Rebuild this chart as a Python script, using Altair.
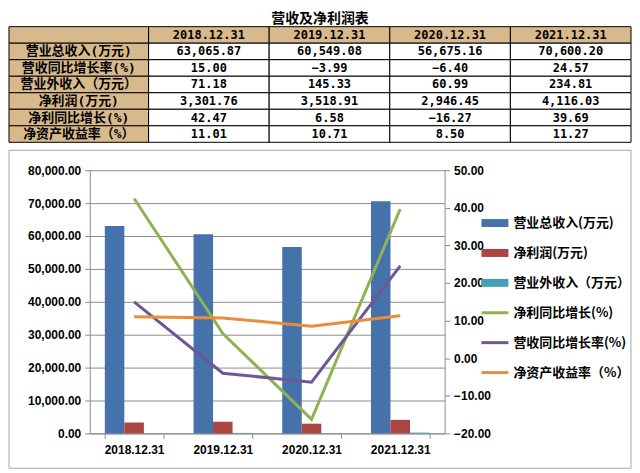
import altair as alt
import pandas as pd

years = ["2018.12.31", "2019.12.31", "2020.12.31", "2021.12.31"]
revenue = [63065.87, 60549.08, 56675.16, 70600.20]
revenue_growth = [15.00, -3.99, -6.40, 24.57]
non_op_income = [71.18, 145.33, 60.99, 234.81]
net_profit = [3301.76, 3518.91, 2946.45, 4116.03]
profit_growth = [42.47, 6.58, -16.27, 39.69]
roe = [11.01, 10.71, 8.50, 11.27]

row_labels = ["营业总收入(万元)", "营收同比增长率(%)", "营业外收入（万元）",
              "净利润(万元)", "净利同比增长(%)", "净资产收益率（%）"]
row_values = [revenue, revenue_growth, non_op_income, net_profit, profit_growth, roe]

bar_names = ["营业总收入(万元)", "净利润(万元)", "营业外收入（万元）"]
bar_values = [revenue, net_profit, non_op_income]
line_names = ["净利同比增长(%)", "营收同比增长率(%)", "净资产收益率（%）"]
line_values = [profit_growth, revenue_growth, roe]
legend_names = bar_names + line_names
legend_kinds = ["bar", "bar", "bar", "line", "line", "line"]
colors = ["#4672AC", "#AA4541", "#42A0B8", "#8DB353", "#6F5696", "#EB8C3C"]

left_ticks = [0, 10000, 20000, 30000, 40000, 50000, 60000, 70000, 80000]
right_ticks = [-20, -10, 0, 10, 20, 30, 40, 50]

TAN = "#D7B98C"
GRAY = "#8C8C8C"
MONO = "DejaVu Sans Mono, Noto Sans CJK SC"
CJK = "Noto Sans CJK SC"
LAT = "Liberation Sans"

# ---------- data frames ----------
hdr = "hdr"
df_cells = pd.DataFrame(
    [{"row": hdr, "year": y} for y in years]
    + [{"row": r, "year": y} for r in row_labels for y in years]
)
df_vals = pd.DataFrame(
    [{"row": r, "year": y, "value": v[i]} for r, v in zip(row_labels, row_values)
     for i, y in enumerate(years)]
)
df_hdr = pd.DataFrame({"row": [hdr] * len(years), "year": years})
df_labels = pd.DataFrame({"row": [hdr] + row_labels, "label": [""] + row_labels})

df_bars = pd.DataFrame(
    [{"name": n, "year": y, "value": v[i]} for n, v in zip(bar_names, bar_values)
     for i, y in enumerate(years)]
)
df_lines = pd.DataFrame(
    [{"name": n, "year": y, "value": v[i]} for n, v in zip(line_names, line_values)
     for i, y in enumerate(years)]
)
df_legend = pd.DataFrame({"name": legend_names, "kind": legend_kinds})

row_scale = alt.Scale(domain=[hdr] + row_labels, range=[-144, -28], paddingInner=0, paddingOuter=0)
col_scale = alt.Scale(domain=years, range=[59, 543], paddingInner=0, paddingOuter=0)
cat_scale = alt.Scale(domain=years, paddingInner=0.34, paddingOuter=0.17)
color_scale = alt.Scale(domain=legend_names, range=colors)
leg_scale = alt.Scale(type="point", domain=legend_names, range=[53, 203], padding=0)

# ---------- chart frame ----------
frame = alt.Chart(pd.DataFrame({"k": [0]})).mark_rect(
    filled=False, stroke="#A6A6A6", strokeWidth=1
).encode(x=alt.value(-81), x2=alt.value(543), y=alt.value(-20), y2=alt.value(299))

# ---------- table ----------
cells = alt.Chart(df_cells).mark_rect(stroke="black", strokeWidth=1).encode(
    x=alt.X("year:N", scale=col_scale, axis=None),
    y=alt.Y("row:N", scale=row_scale, axis=None),
    fill=alt.condition(alt.datum.row == hdr, alt.value(TAN), alt.value("white")),
)
label_cells = alt.Chart(df_labels).mark_rect(fill=TAN, stroke="black", strokeWidth=1).encode(
    x=alt.value(-81), x2=alt.value(59),
    y=alt.Y("row:N", scale=row_scale, axis=None),
)
label_text = alt.Chart(df_labels).mark_text(
    font=MONO, fontSize=13, fontWeight="bold", color="black", baseline="middle", align="center"
).encode(
    x=alt.value(-11),
    y=alt.Y("row:N", scale=row_scale, axis=None),
    text="label:N",
)
hdr_text = alt.Chart(df_hdr).mark_text(
    font=MONO, fontSize=12, fontWeight="bold", color="black", baseline="middle"
).encode(
    x=alt.X("year:N", scale=col_scale, axis=None),
    y=alt.Y("row:N", scale=row_scale, axis=None),
    text="year:N",
)
val_text = alt.Chart(df_vals).mark_text(
    font=MONO, fontSize=12, fontWeight="bold", color="black", baseline="middle"
).encode(
    x=alt.X("year:N", scale=col_scale, axis=None),
    y=alt.Y("row:N", scale=row_scale, axis=None),
    text=alt.Text("value:Q", format=",.2f"),
)

# ---------- combo chart ----------
bars = alt.Chart(df_bars).mark_bar().encode(
    x=alt.X("year:N", scale=cat_scale, title=None,
            axis=alt.Axis(labelAngle=0, tickBand="extent", tickSize=5, labelPadding=6,
                          domainColor=GRAY, tickColor=GRAY, labelFont=LAT, labelFontSize=12,
                          labelFontWeight="bold", labelColor="black", grid=False)),
    xOffset=alt.XOffset("name:N", scale=alt.Scale(domain=bar_names, paddingInner=0, paddingOuter=0)),
    y=alt.Y("value:Q", scale=alt.Scale(domain=[0, 80000], nice=False), title=None,
            axis=alt.Axis(orient="left", values=left_ticks, format=",.2f", grid=True,
                          gridColor=GRAY, domainColor=GRAY, tickColor=GRAY, tickSize=5,
                          labelPadding=4, labelFont=LAT, labelFontSize=12,
                          labelFontWeight="bold", labelColor="black")),
    color=alt.Color("name:N", scale=color_scale, legend=None),
)
lines = alt.Chart(df_lines).mark_line(strokeWidth=3).encode(
    x=alt.X("year:N", scale=cat_scale, axis=None),
    y=alt.Y("value:Q", scale=alt.Scale(domain=[-20, 50], nice=False), title=None,
            axis=alt.Axis(orient="right", values=right_ticks, format=".2f", grid=False,
                          domainColor=GRAY, tickColor=GRAY, tickSize=5, labelPadding=4,
                          labelFont=LAT, labelFontSize=12, labelFontWeight="bold",
                          labelColor="black")),
    color=alt.Color("name:N", scale=color_scale, legend=None),
)

leg_sym = alt.Chart(df_legend).mark_rule(strokeCap="butt").encode(
    x=alt.value(393), x2=alt.value(420),
    y=alt.Y("name:N", scale=leg_scale, axis=None),
    color=alt.Color("name:N", scale=color_scale, legend=None),
    strokeWidth=alt.condition(alt.datum.kind == "bar", alt.value(8), alt.value(3)),
)
leg_text = alt.Chart(df_legend).mark_text(
    align="left", baseline="middle", font=CJK, fontSize=13, fontWeight="bold", color="black"
).encode(
    x=alt.value(425),
    y=alt.Y("name:N", scale=leg_scale, axis=None),
    text="name:N",
)

chart = alt.layer(
    frame, bars, lines, cells, label_cells, label_text, hdr_text, val_text, leg_sym, leg_text
).resolve_scale(
    x="independent", y="independent"
).properties(
    width=356, height=264,
    padding={"left": 0, "top": 3, "right": 0, "bottom": 0},
    title=alt.TitleParams("营收及净利润表", anchor="middle", frame="bounds", font=CJK,
                          fontSize=14, fontWeight="bold", color="black", offset=0),
).configure_view(strokeWidth=0)

chart.save("out.html", embed_options={"renderer": "svg", "actions": False})
